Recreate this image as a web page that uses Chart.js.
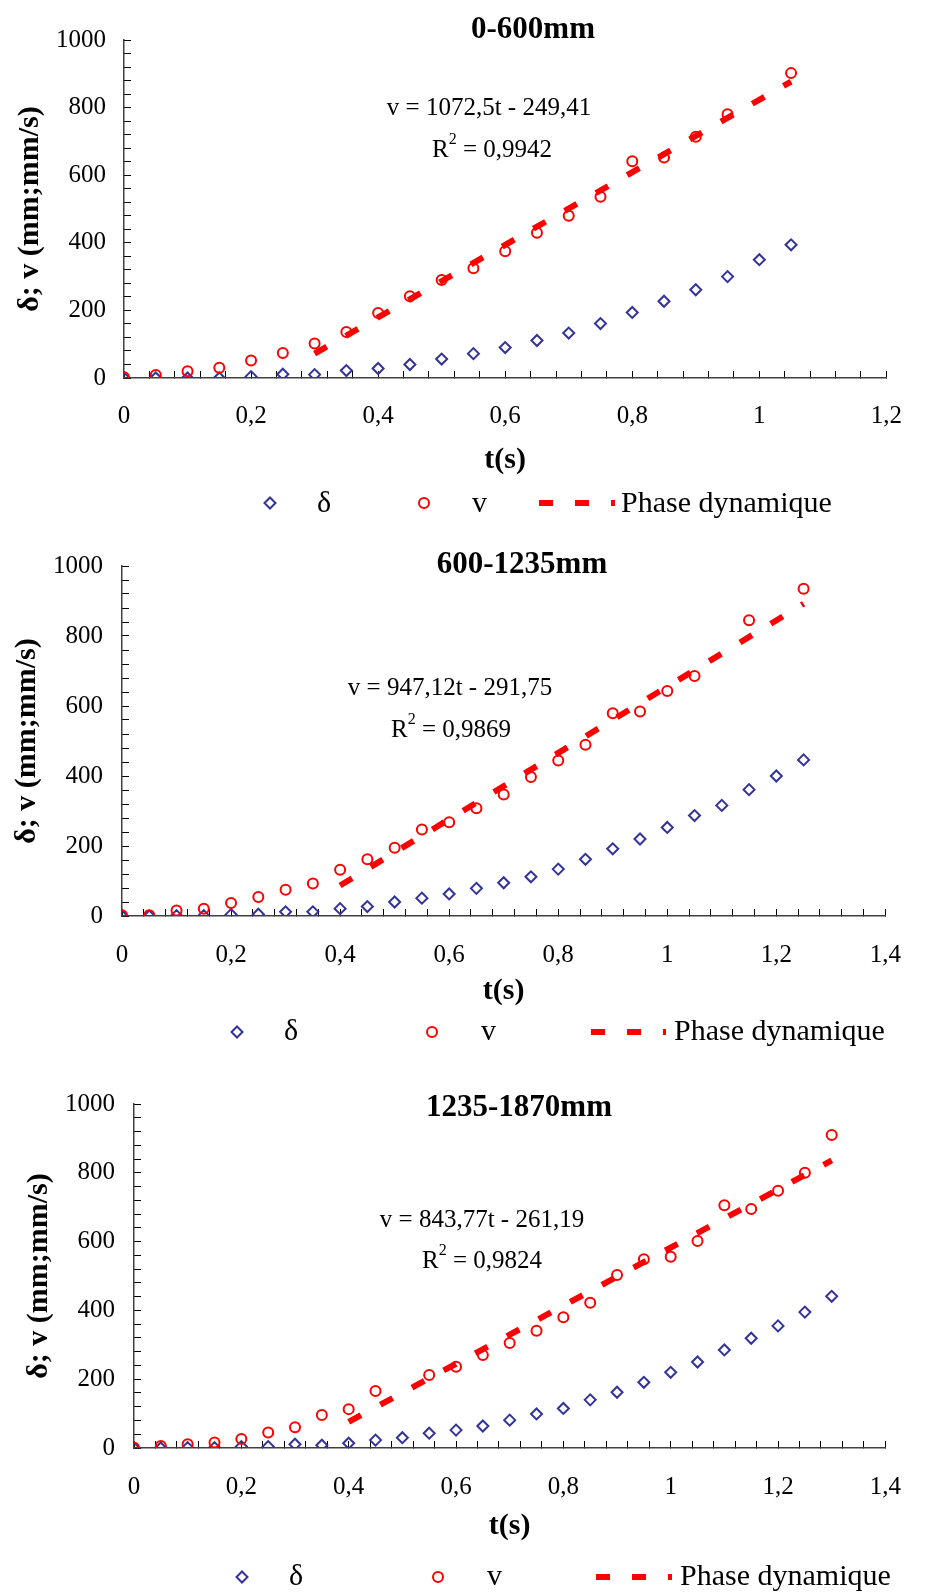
<!DOCTYPE html>
<html>
<head>
<meta charset="utf-8">
<script src="https://cdn.jsdelivr.net/npm/chart.js"></script>
<style>
  html, body { margin: 0; padding: 0; background: #fff; }
  body { width: 932px; height: 1596px; position: relative; overflow: hidden; }
  canvas { position: absolute; left: 0; }
</style>
</head>
<body>
<canvas id="c1" width="932" height="525" style="top:0px"></canvas>
<canvas id="c2" width="932" height="535" style="top:525px"></canvas>
<canvas id="c3" width="932" height="536" style="top:1060px"></canvas>
<script>
// valeurs
// 0-600mm
const t1 = [0, 0.05, 0.1, 0.15, 0.2, 0.25, 0.3, 0.35, 0.4, 0.45, 0.5, 0.55, 0.6, 0.65, 0.7, 0.75, 0.8, 0.85, 0.9, 0.95, 1, 1.05];
const delta1 = [0, 0, 0, 0, 4, 11, 10, 22, 28, 40, 56, 72, 90, 111, 133, 161, 194, 227, 261, 300, 350, 394];
const tv1 = [0, 0.05, 0.1, 0.15, 0.2, 0.25, 0.3, 0.35, 0.4, 0.45, 0.5, 0.55, 0.6, 0.65, 0.7, 0.75, 0.8, 0.85, 0.9, 0.95, 1.05];
const v1 = [2, 9, 20, 30, 52, 74, 102, 136, 192, 242, 290, 325, 375, 430, 480, 536, 641, 652, 714, 780, 902];
const fitT1 = [0.3, 1.05];
const fitV1 = [72, 877];

// 600-1235mm
const t2 = [0, 0.05, 0.1, 0.15, 0.2, 0.25, 0.3, 0.35, 0.4, 0.45, 0.5, 0.55, 0.6, 0.65, 0.7, 0.75, 0.8, 0.85, 0.9, 0.95, 1, 1.05, 1.1, 1.15, 1.2, 1.25];
const delta2 = [0, 0, 1, 1, 4, 5, 12, 12, 21, 27, 40, 51, 63, 79, 95, 112, 134, 162, 192, 220, 253, 287, 316, 361, 400, 446];
const tv2 = [0, 0.05, 0.1, 0.15, 0.2, 0.25, 0.3, 0.35, 0.4, 0.45, 0.5, 0.55, 0.6, 0.65, 0.7, 0.75, 0.8, 0.85, 0.9, 0.95, 1, 1.05, 1.15, 1.25];
const v2 = [2, 2, 16, 21, 37, 54, 75, 93, 132, 162, 195, 247, 268, 308, 347, 397, 444, 489, 579, 584, 643, 686, 845, 935];
const fitT2 = [0.4, 1.25];
const fitV2 = [87, 892];

// 1235-1870mm
const t3 = [0, 0.05, 0.1, 0.15, 0.2, 0.25, 0.3, 0.35, 0.4, 0.45, 0.5, 0.55, 0.6, 0.65, 0.7, 0.75, 0.8, 0.85, 0.9, 0.95, 1, 1.05, 1.1, 1.15, 1.2, 1.25, 1.3];
const delta3 = [0, 0, 1, 1, 4, 4, 11, 8, 14, 23, 30, 43, 52, 64, 81, 99, 115, 140, 162, 191, 220, 250, 285, 319, 355, 395, 441];
const tv3 = [0, 0.05, 0.1, 0.15, 0.2, 0.25, 0.3, 0.35, 0.4, 0.45, 0.55, 0.6, 0.65, 0.7, 0.75, 0.8, 0.85, 0.9, 0.95, 1, 1.05, 1.1, 1.15, 1.2, 1.25, 1.3];
const v3 = [1, 6, 11, 16, 26, 45, 60, 96, 113, 166, 212, 236, 270, 305, 341, 380, 422, 503, 549, 556, 602, 706, 695, 748, 800, 910];
const fitT3 = [0.4, 1.3];
const fitV3 = [76, 836];

// graduations
const yMajors = [0, 200, 400, 600, 800, 1000];
const xMajors12 = [0, 0.2, 0.4, 0.6, 0.8, 1, 1.2];
const xMajors14 = [0, 0.2, 0.4, 0.6, 0.8, 1, 1.2, 1.4];

const serif = '"Liberation Serif", "Times New Roman", serif';
Chart.defaults.font.family = serif;
Chart.defaults.color = '#000';

const near = (v, list) => list.some(m => Math.abs(v - m) < 1e-6);
const virgule = v => String(Math.round(v * 10) / 10).replace('.', ',');
const pts = (xs, ys) => xs.map((x, i) => ({x: x, y: ys[i]}));

// titre, equation et legende dessines a la main
const extras = {
    id: 'extras',
    afterDraw(chart, args, o) {
        const ctx = chart.ctx;
        ctx.save();
        ctx.fillStyle = '#000';
        ctx.textBaseline = 'alphabetic';

        ctx.textAlign = 'center';
        ctx.font = 'bold 31px ' + serif;
        ctx.fillText(o.title, o.titleX, o.titleY);

        ctx.font = '25px ' + serif;
        ctx.fillText(o.eq, o.eqX, o.eqY);

        // R² = ...
        ctx.textAlign = 'left';
        const rest = ' = ' + o.r2;
        ctx.font = '25px ' + serif;
        const wa = ctx.measureText('R').width, wb = ctx.measureText(rest).width;
        ctx.font = '16px ' + serif;
        const ws = ctx.measureText('2').width;
        let x = o.r2X - (wa + ws + wb) / 2;
        ctx.font = '25px ' + serif;
        ctx.fillText('R', x, o.r2Y);
        x += wa;
        ctx.font = '16px ' + serif;
        ctx.fillText('2', x, o.r2Y - 13);
        x += ws;
        ctx.font = '25px ' + serif;
        ctx.fillText(rest, x, o.r2Y);

        // legende
        const ds = chart.data.datasets;
        const y = o.legY;
        ctx.font = '30px ' + serif;

        // δ
        let d = ds[0], r = d.pointRadius;
        ctx.strokeStyle = d.borderColor;
        ctx.lineWidth = d.borderWidth;
        ctx.beginPath();
        ctx.moveTo(o.leg[0].mx, y - r);
        ctx.lineTo(o.leg[0].mx + r, y);
        ctx.lineTo(o.leg[0].mx, y + r);
        ctx.lineTo(o.leg[0].mx - r, y);
        ctx.closePath();
        ctx.stroke();
        ctx.fillText(d.label, o.leg[0].tx, o.legBase);

        // v
        d = ds[1]; r = d.pointRadius;
        ctx.strokeStyle = d.borderColor;
        ctx.lineWidth = d.borderWidth;
        ctx.beginPath();
        ctx.arc(o.leg[1].mx, y, r, 0, Math.PI * 2);
        ctx.stroke();
        ctx.fillText(d.label, o.leg[1].tx, o.legBase);

        // Phase dynamique
        d = ds[2];
        ctx.strokeStyle = d.borderColor;
        ctx.lineWidth = d.borderWidth;
        ctx.setLineDash(d.borderDash);
        ctx.beginPath();
        ctx.moveTo(o.leg[2].x0, y);
        ctx.lineTo(o.leg[2].x1, y);
        ctx.stroke();
        ctx.setLineDash([]);
        ctx.fillText(d.label, o.leg[2].tx, o.legBase);

        ctx.restore();
    }
};

function makeChart(id, c) {
    return new Chart(document.getElementById(id), {
        type: 'scatter',
        data: {
            datasets: [{
                label: 'δ',
                data: pts(c.t, c.delta),
                pointStyle: 'rectRot',
                pointRadius: 5.5,
                pointHoverRadius: 5.5,
                borderWidth: 2,
                borderColor: '#333399',
                backgroundColor: 'rgba(0,0,0,0)',
                order: 2
            }, {
                label: 'v',
                data: pts(c.tv, c.v),
                pointStyle: 'circle',
                pointRadius: 5,
                pointHoverRadius: 5,
                borderWidth: 2,
                borderColor: '#ff0000',
                backgroundColor: 'rgba(0,0,0,0)',
                order: 1
            }, {
                label: 'Phase dynamique',
                type: 'line',
                data: pts(c.fitT, c.fitV),
                borderColor: '#ff0000',
                borderWidth: 6,
                borderDash: [14, 22],
                borderCapStyle: 'butt',
                pointRadius: 0,
                fill: false,
                order: 0
            }]
        },
        options: {
            responsive: false,
            animation: false,
            devicePixelRatio: 1,
            layout: {
                padding: {
                    left: 0,
                    right: 932 - c.plotRight,
                    top: c.plotTop,
                    bottom: c.height - c.plotBottom - c.xh
                }
            },
            plugins: {
                legend: { display: false },
                tooltip: { enabled: false },
                extras: c.extras
            },
            scales: {
                x: {
                    type: 'linear',
                    min: 0,
                    max: c.xMax,
                    border: { display: true, color: '#404040', width: 1.5 },
                    grid: { drawOnChartArea: false, drawTicks: true, tickLength: -7, color: '#000', tickWidth: 1 },
                    ticks: {
                        stepSize: 0.04,
                        autoSkip: false,
                        maxRotation: 0,
                        padding: c.xPad,
                        font: { size: 25 },
                        callback: v => near(v, c.xMajors) ? virgule(v) : ''
                    },
                    title: { display: true, text: 't(s)', font: { size: 30, weight: 'bold' }, padding: 0 },
                    afterFit: s => { s.height = c.xh; }
                },
                y: {
                    type: 'linear',
                    min: 0,
                    max: 1000,
                    border: { display: true, color: '#404040', width: 1.5 },
                    grid: { drawOnChartArea: false, drawTicks: true, tickLength: -7, color: '#000', tickWidth: 1 },
                    ticks: {
                        stepSize: 40,
                        autoSkip: false,
                        padding: c.yPad,
                        font: { size: 25 },
                        callback: v => near(v, yMajors) ? String(v) : ''
                    },
                    title: {
                        display: true,
                        text: 'δ; v (mm;mm/s)',
                        font: { size: 30, weight: 'bold' },
                        padding: { top: c.yTitlePad, bottom: 0 }
                    },
                    afterFit: s => { s.width = c.plotLeft; }
                }
            }
        },
        plugins: [extras]
    });
}

makeChart('c1', {
    t: t1, delta: delta1, tv: tv1, v: v1, fitT: fitT1, fitV: fitV1,
    xMax: 1.2, xMajors: xMajors12,
    height: 525, plotLeft: 124, plotRight: 904, plotTop: 18, plotBottom: 378,
    xh: 100, xPad: 30, yPad: 25, yTitlePad: 12,
    extras: {
        title: '0-600mm', titleX: 533, titleY: 38,
        eq: 'v = 1072,5t - 249,41', eqX: 489, eqY: 115,
        r2: '0,9942', r2X: 492, r2Y: 157,
        legY: 503, legBase: 512,
        leg: [{mx: 270, tx: 317}, {mx: 424, tx: 472}, {x0: 539, x1: 615, tx: 621}]
    }
});

makeChart('c2', {
    t: t2, delta: delta2, tv: tv2, v: v2, fitT: fitT2, fitV: fitV2,
    xMax: 1.4, xMajors: xMajors14,
    height: 535, plotLeft: 122, plotRight: 912, plotTop: 37, plotBottom: 391,
    xh: 93.5, xPad: 31, yPad: 26, yTitlePad: 9,
    extras: {
        title: '600-1235mm', titleX: 522, titleY: 48,
        eq: 'v = 947,12t - 291,75', eqX: 450, eqY: 170,
        r2: '0,9869', r2X: 451, r2Y: 212,
        legY: 507, legBase: 515,
        leg: [{mx: 237, tx: 284}, {mx: 432, tx: 481}, {x0: 591, x1: 666, tx: 674}]
    }
});

makeChart('c3', {
    t: t3, delta: delta3, tv: tv3, v: v3, fitT: fitT3, fitV: fitV3,
    xMax: 1.4, xMajors: xMajors14,
    height: 536, plotLeft: 134, plotRight: 901, plotTop: 44, plotBottom: 388,
    xh: 96.5, xPad: 31, yPad: 26, yTitlePad: 21,
    extras: {
        title: '1235-1870mm', titleX: 519, titleY: 56,
        eq: 'v = 843,77t - 261,19', eqX: 482, eqY: 167,
        r2: '0,9824', r2X: 482, r2Y: 208,
        legY: 517, legBase: 525,
        leg: [{mx: 242, tx: 289}, {mx: 438, tx: 487}, {x0: 596, x1: 672, tx: 680}]
    }
});
</script>
</body>
</html>
